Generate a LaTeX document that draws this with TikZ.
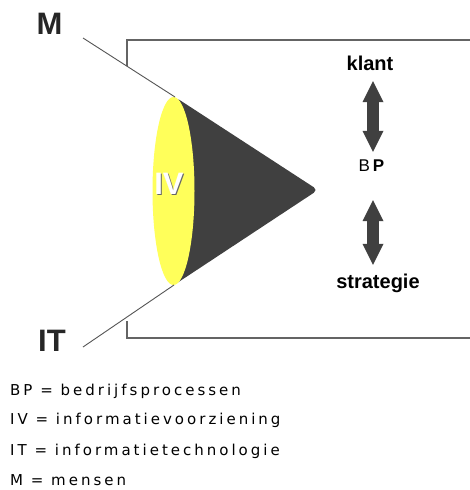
\documentclass[tikz,border=0pt]{standalone}
\usepackage{fontspec}
\setmainfont{Liberation Sans}
\newfontfamily\legfont[LetterSpace=20]{DejaVu Sans}
\newfontfamily\labfont{Liberation Sans}
\usetikzlibrary{arrows.meta}
\definecolor{conedark}{RGB}{64,64,64}
\definecolor{coneyellow}{RGB}{255,255,90}
\definecolor{framegray}{RGB}{100,100,100}
\definecolor{linegray}{RGB}{85,85,85}
\tikzset{
  biglabel/.style={font=\labfont\fontsize{31}{31}\selectfont\bfseries, text=black!85, inner sep=0pt},
  sidelabel/.style={font=\labfont\fontsize{20}{20}\selectfont\bfseries, inner sep=0pt},
  legend/.style={font=\legfont\fontsize{15}{15}\selectfont, anchor=base west, inner sep=0pt},
  frame/.style={draw=framegray, line width=1.5pt},
  thinline/.style={draw=linegray, line width=0.9pt},
  blockarrow/.style={draw=conedark, line width=12pt, {Triangle[width=21pt,length=21pt,line width=0pt]}-{Triangle[width=21pt,length=21pt,line width=0pt]}}
}
\begin{document}
\begin{tikzpicture}[x=1pt,y=-1pt]
\useasboundingbox[fill=white] (0,0) rectangle (470,490);
% frame
\draw[frame] (127,66) -- (127,40) -- (471,40);
\draw[frame] (127,321) -- (127,338) -- (471,338);
% cone
\coordinate (conetop) at (175,97);
\coordinate (conebot) at (174,285);
\coordinate (apex) at (318,190);
\fill[conedark, rounded corners=5pt] (conetop) -- (apex) -- (conebot) -- cycle;
\fill[coneyellow] (173.5,191) ellipse [x radius=21, y radius=94];
% IV label
\node[biglabel, text=black!60] at (170,185) {IV};
\node[biglabel, text=white] (IV) at (169,184) {IV};
% M and IT
\node[biglabel] (M) at (49.5,24) {M};
\node[biglabel] (IT) at (52,341) {IT};
\coordinate (mstart) at (83,38);
\coordinate (itstart) at (83,347);
\draw[thinline] (mstart) -- (conetop);
\draw[thinline] (itstart) -- (conebot);
% right side
\node[sidelabel] (klant) at (370,63.5) {klant};
\node[inner sep=0pt, font=\labfont\fontsize{17}{17}\selectfont] (BP) at (371.5,166) {B\,\textbf{P}};
\node[sidelabel] (strategie) at (378,283.5) {strategie};
\coordinate (ax) at (373,0);
\draw[blockarrow, shorten <=10pt, shorten >=8pt] (ax |- klant.south) -- (ax |- BP.north);
\draw[blockarrow, shorten <=28pt, shorten >=9pt] (ax |- BP.south) -- (ax |- strategie.north);
% legend
\node[legend] (l1) at (10,395) {BP = bedrijfsprocessen};
\node[legend] (l2) at (10,424) {IV = informatievoorziening};
\node[legend] (l3) at (10,455) {IT = informatietechnologie};
\node[legend] (l4) at (10,485) {M = mensen};
\end{tikzpicture}
\end{document}
